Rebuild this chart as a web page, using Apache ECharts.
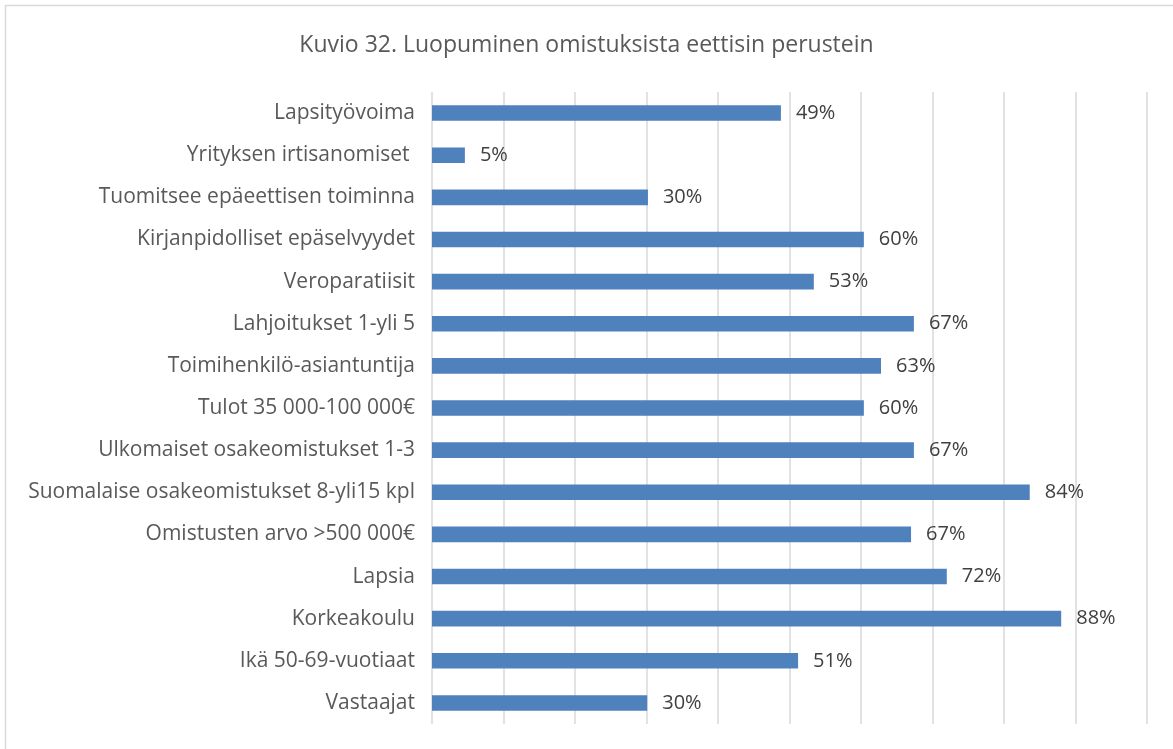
<!DOCTYPE html>
<html><head><meta charset="utf-8">
<script src="https://cdn.jsdelivr.net/npm/echarts@6/dist/echarts.min.js"></script>
<style>html,body{margin:0;padding:0;background:#fff}#c{width:1173px;height:749px}</style>
</head><body><div id="c"></div>
<script>
const titleText = 'Kuvio 32. Luopuminen omistuksista eettisin perustein';
const categories = [
  'Lapsityövoima',
  'Yrityksen irtisanomiset ',
  'Tuomitsee epäeettisen toiminna',
  'Kirjanpidolliset epäselvyydet',
  'Veroparatiisit',
  'Lahjoitukset 1-yli 5',
  'Toimihenkilö-asiantuntija',
  'Tulot 35 000-100 000€',
  'Ulkomaiset osakeomistukset 1-3',
  'Suomalaise osakeomistukset 8-yli15 kpl',
  'Omistusten arvo >500 000€',
  'Lapsia',
  'Korkeakoulu',
  'Ikä 50-69-vuotiaat',
  'Vastaajat'
];
const values = [48.8, 4.6, 30.2, 60.4, 53.4, 67.4, 62.8, 60.4, 67.4, 83.6, 67.0, 72.0, 88.0, 51.2, 30.1];
const xTicks = {min: 0, max: 100, interval: 10};

const chart = echarts.init(document.getElementById('c'), null, {renderer: 'canvas'});
const font = 'Open Sans, sans-serif';
chart.setOption({
  backgroundColor: '#fff',
  animation: false,
  title: {
    text: titleText, left: 'center', top: 29,
    textStyle: {fontFamily: font, fontSize: 23, fontWeight: 'normal', color: '#595959'}
  },
  graphic: [{
    type: 'rect', shape: {x: 5.5, y: 5.5, width: 1200, height: 800},
    style: {fill: 'none', stroke: '#d9d9d9', lineWidth: 1.5}, silent: true
  }],
  grid: {left: 432, right: 26, top: 92, bottom: 25, containLabel: false},
  xAxis: {
    type: 'value', min: xTicks.min, max: xTicks.max, interval: xTicks.interval,
    axisLabel: {show: false}, axisLine: {show: false}, axisTick: {show: false},
    splitLine: {show: true, lineStyle: {color: '#d9d9d9', width: 1.5}}
  },
  yAxis: {
    type: 'category', data: categories, inverse: true,
    axisLine: {show: false}, axisTick: {show: false},
    axisLabel: {margin: 17, fontFamily: font, fontSize: 21, color: '#595959'}
  },
  series: [{
    type: 'bar', data: values, barWidth: '37%',
    itemStyle: {color: '#4f81bd'},
    label: {
      show: true, position: 'right', distance: 15,
      formatter: p => Math.round(p.value) + '%',
      fontFamily: font, fontSize: 20, color: '#404040'
    }
  }]
});
</script></body></html>
